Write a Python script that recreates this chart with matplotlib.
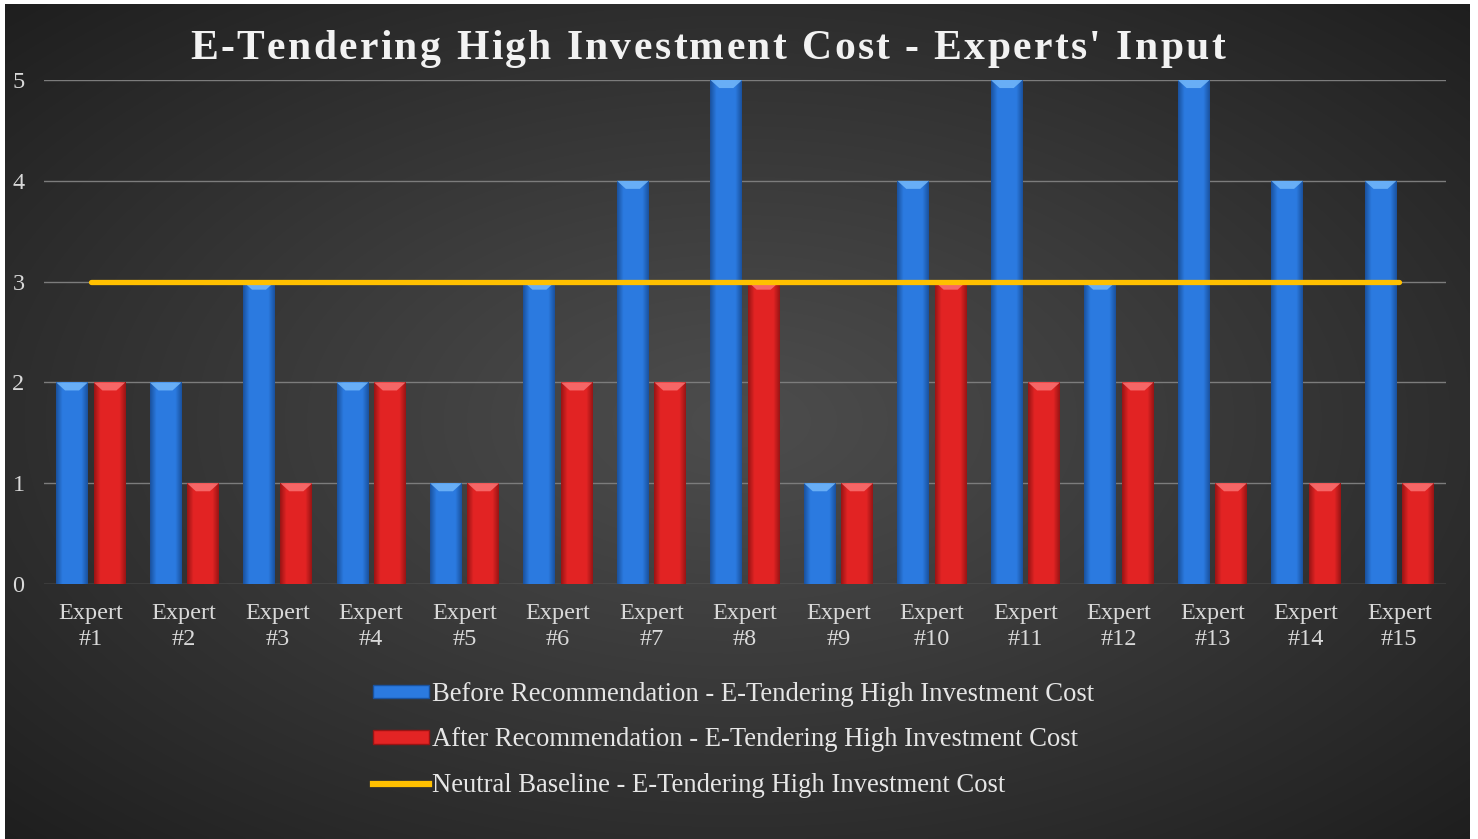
import numpy as np
import matplotlib.pyplot as plt
from matplotlib.patches import Polygon, Rectangle
from matplotlib.lines import Line2D

# Data
experts = [f"Expert\n#{i}" for i in range(1, 16)]
before = [2, 2, 3, 2, 1, 3, 4, 5, 1, 4, 5, 3, 5, 4, 4]
after = [2, 1, 1, 2, 1, 2, 2, 3, 1, 3, 2, 2, 1, 1, 1]
baseline = [3] * 15

title = "E-Tendering High Investment Cost - Experts' Input"
lab_before = "Before Recommendation - E-Tendering High Investment Cost"
lab_after = "After Recommendation - E-Tendering High Investment Cost"
lab_base = "Neutral Baseline - E-Tendering High Investment Cost"

plt.rcParams['font.family'] = ['Liberation Serif', 'DejaVu Serif']

W, H = 1478, 839
fig = plt.figure(figsize=(W / 100, H / 100), dpi=100)
fig.patch.set_facecolor('white')

# Dark radial background
bg = fig.add_axes([5 / W, 0, 1465 / W, 835 / H])
bg.set_axis_off()
yy, xx = np.mgrid[-1:1:300j, -1:1:500j]
r = np.sqrt(xx ** 2 + yy ** 2) / np.sqrt(2)
shade = 0.30 - 0.18 * r ** 1.1
bg.imshow(np.dstack([shade] * 3), aspect='auto', extent=[0, 1, 0, 1], interpolation='bilinear')
bg.set_zorder(0)

ax = fig.add_axes([44 / W, 1 - 584 / H, (1446 - 44) / W, (584 - 80) / H])
ax.set_facecolor('none')
ax.set_zorder(1)

x = np.arange(len(experts))
bw = 0.34
off = 0.2


def shaded_bars(xs, vals, dark, mid, light):
    bars = ax.bar(xs, vals, bw, color=mid, zorder=3, linewidth=0)
    stops = np.array([dark, mid, mid, mid, mid, dark])
    pos = np.linspace(0, 5, 64)
    img = np.array([[np.interp(p, np.arange(6), stops[:, c]) for c in range(3)] for p in pos])
    for b, v in zip(bars, vals):
        x0 = b.get_x()
        w = b.get_width()
        im = ax.imshow(img[None, :, :], extent=[x0, x0 + w, 0, v], aspect='auto', zorder=3.5,
                       interpolation='bilinear')
        im.set_clip_path(b)
        d = 0.08
        top = Polygon([[x0, v], [x0 + w, v], [x0 + w * 0.72, v - d], [x0 + w * 0.28, v - d]],
                      closed=True, facecolor=light, alpha=0.85, linewidth=0, zorder=4)
        ax.add_patch(top)
    return bars


blue_dark = np.array([0.10, 0.32, 0.62])
blue_mid = np.array([0.17, 0.48, 0.88])
blue_light = np.array([0.45, 0.72, 0.98])
red_dark = np.array([0.60, 0.08, 0.08])
red_mid = np.array([0.89, 0.14, 0.14])
red_light = np.array([0.98, 0.45, 0.45])

shaded_bars(x - off, before, blue_dark, blue_mid, blue_light)
shaded_bars(x + off, after, red_dark, red_mid, red_light)

ax.plot(x, baseline, color='#FFC000', linewidth=3.8, zorder=5, solid_capstyle='round')

ax.set_xlim(-0.5, len(experts) - 0.5)
ax.set_ylim(0, 5)
ax.set_yticks(range(6))
ax.set_xticks(x)
ax.set_xticklabels(experts)
ax.grid(axis='y', color='#7c7c7c', linewidth=1.0, zorder=1)
ax.set_axisbelow(True)
for s in ax.spines.values():
    s.set_visible(False)
ax.tick_params(axis='both', length=0, colors='#d9d9d9', labelsize=17.5)
ax.tick_params(axis='x', pad=14)
ax.tick_params(axis='y', pad=14)
for t in ax.get_xticklabels():
    t.set_linespacing(1.3)

# Letter-spaced title: place each glyph by its own width
renderer = fig.canvas.get_renderer()
title_kw = dict(color='#f2f2f2', fontsize=30, fontweight='bold', va='center', ha='left')


def text_w(s):
    t = fig.text(0, 0, s, **title_kw)
    w = t.get_window_extent(renderer).width
    t.remove()
    return w


space_w = text_w('a a') - text_w('aa')
widths = [space_w if ch == ' ' else text_w(ch) for ch in title]
x_left, x_right = 190, 1225
spacing = (x_right - x_left - sum(widths)) / (len(title) - 1)
px = x_left
for ch, w in zip(title, widths):
    if ch != ' ':
        fig.text(px / W, 1 - 49 / H, ch, **title_kw)
    px += w + spacing

handles = [
    Rectangle((0, 0), 1, 1, facecolor=blue_mid, edgecolor=blue_dark, linewidth=1),
    Rectangle((0, 0), 1, 1, facecolor=red_mid, edgecolor=red_dark, linewidth=1),
    Line2D([0], [0], color='#FFC000', linewidth=4.5),
]
leg = fig.legend(handles, [lab_before, lab_after, lab_base], loc='center left',
                 bbox_to_anchor=(360 / W, 1 - 740 / H), frameon=False, fontsize=19.2,
                 labelcolor='#e6e6e6', handlelength=2.1, handleheight=0.4,
                 handletextpad=0.1, labelspacing=0.76, borderpad=0)

fig.savefig('out.png', dpi=100, facecolor=fig.get_facecolor())
